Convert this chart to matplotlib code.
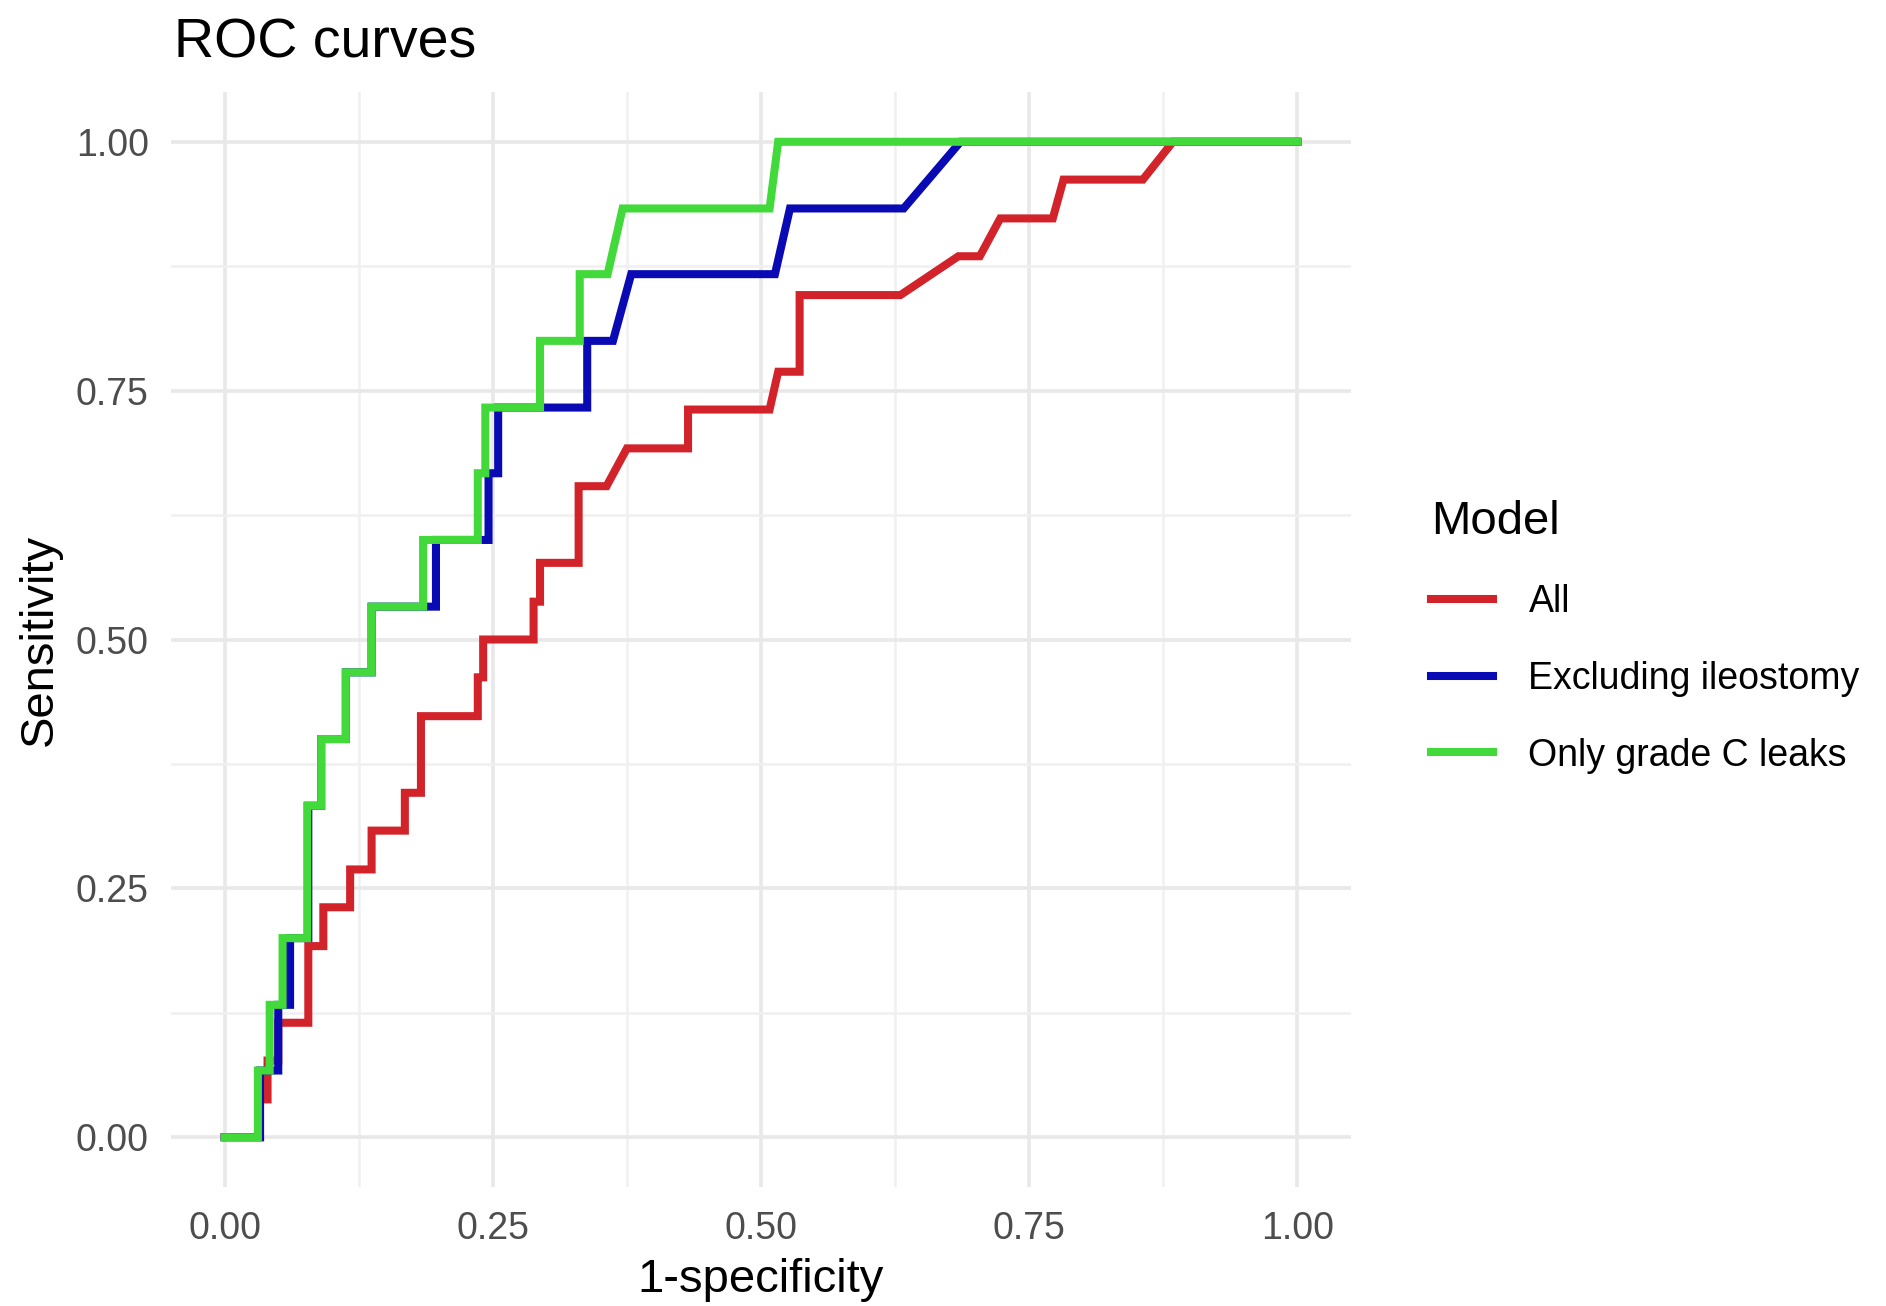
import matplotlib
matplotlib.use('Agg')
import matplotlib.pyplot as plt
import numpy as np

plt.rcParams['font.family'] = ['Liberation Sans', 'DejaVu Sans']

# ROC points (1-specificity, sensitivity)
all_fpr = [0, 0.033, 0.033, 0.040, 0.040, 0.050, 0.050, 0.078, 0.078, 0.092, 0.092,
           0.117, 0.117, 0.137, 0.137, 0.168, 0.168, 0.183, 0.183, 0.236, 0.236,
           0.241, 0.241, 0.288, 0.288, 0.294, 0.294, 0.330, 0.330, 0.356, 0.375,
           0.432, 0.432, 0.508, 0.516, 0.536, 0.536, 0.630, 0.684, 0.704, 0.723,
           0.772, 0.782, 0.856, 0.884, 1.0]
all_tpr = [0, 0, 0.038, 0.038, 0.077, 0.077, 0.115, 0.115, 0.192, 0.192, 0.231,
           0.231, 0.269, 0.269, 0.308, 0.308, 0.346, 0.346, 0.423, 0.423, 0.462,
           0.462, 0.5, 0.5, 0.538, 0.538, 0.577, 0.577, 0.654, 0.654, 0.692,
           0.692, 0.731, 0.731, 0.769, 0.769, 0.846, 0.846, 0.885, 0.885, 0.923,
           0.923, 0.962, 0.962, 1.0, 1.0]

excl_fpr = [0, 0.033, 0.033, 0.050, 0.050, 0.061, 0.061, 0.078, 0.078, 0.090, 0.090,
            0.113, 0.113, 0.137, 0.137, 0.197, 0.197, 0.246, 0.246, 0.255, 0.255,
            0.338, 0.338, 0.362, 0.379, 0.513, 0.527, 0.633, 0.686, 1.0]
excl_tpr = [0, 0, 0.067, 0.067, 0.133, 0.133, 0.2, 0.2, 0.333, 0.333, 0.4,
            0.4, 0.467, 0.467, 0.533, 0.533, 0.6, 0.6, 0.667, 0.667, 0.733,
            0.733, 0.8, 0.8, 0.867, 0.867, 0.933, 0.933, 1.0, 1.0]

gradec_fpr = [0, 0.031, 0.031, 0.042, 0.042, 0.054, 0.054, 0.077, 0.077, 0.090, 0.090,
              0.113, 0.113, 0.137, 0.137, 0.185, 0.185, 0.236, 0.236, 0.243, 0.243,
              0.294, 0.294, 0.331, 0.331, 0.357, 0.371, 0.508, 0.516, 1.0]
gradec_tpr = [0, 0, 0.067, 0.067, 0.133, 0.133, 0.2, 0.2, 0.333, 0.333, 0.4,
              0.4, 0.467, 0.467, 0.533, 0.533, 0.6, 0.6, 0.667, 0.667, 0.733,
              0.733, 0.8, 0.8, 0.867, 0.867, 0.933, 0.933, 1.0, 1.0]

models = ['All', 'Excluding ileostomy', 'Only grade C leaks']
colors = ['#D2232A', '#0A0AB4', '#42D93A']
ticks = [0, 0.25, 0.5, 0.75, 1.0]
tick_labels = ['0.00', '0.25', '0.50', '0.75', '1.00']

W, H = 1886, 1306
fig = plt.figure(figsize=(W / 100, H / 100), dpi=100)
ax = fig.add_axes([171 / W, 1 - 1187 / H, (1351 - 171) / W, (1187 - 92) / H])

lines = []
for fpr, tpr, name, col in zip([all_fpr, excl_fpr, gradec_fpr],
                               [all_tpr, excl_tpr, gradec_tpr], models, colors):
    ln, = ax.plot(fpr, tpr, color=col, lw=5.8, label=name, solid_joinstyle='miter')
    lines.append(ln)

ax.set_xlim(-0.05, 1.05)
ax.set_ylim(-0.05, 1.05)
ax.set_xticks(ticks)
ax.set_xticklabels(tick_labels)
ax.set_yticks(ticks)
ax.set_yticklabels(tick_labels)
ax.set_xticks(np.arange(0.125, 1, 0.25), minor=True)
ax.set_yticks(np.arange(0.125, 1, 0.25), minor=True)
ax.grid(which='major', color='#E8E8E8', lw=2.6)
ax.grid(which='minor', color='#F0F0F0', lw=1.8)
ax.set_axisbelow(True)
for s in ax.spines.values():
    s.set_visible(False)
ax.tick_params(which='both', length=0)
ax.tick_params(axis='x', labelsize=27, labelcolor='#4D4D4D', pad=17)
ax.tick_params(axis='y', labelsize=27, labelcolor='#4D4D4D', pad=16)

fig.text(174 / W, 1 - 57 / H, 'ROC curves', fontsize=40, va='baseline', ha='left')
fig.text(761 / W, 1 - 1292 / H, '1-specificity', fontsize=34, va='baseline', ha='center')
fig.text(40 / W, 1 - 640 / H, 'Sensitivity', fontsize=34, va='center', ha='center',
         rotation=90)

leg = fig.legend(handles=lines, labels=models, title='Model', loc='upper left',
                 bbox_to_anchor=(1416 / W, 1 - 485 / H), frameon=False,
                 fontsize=27, title_fontsize=34, handlelength=1.65,
                 handletextpad=0.95, labelspacing=1.08, alignment='left',
                 borderaxespad=0)
for lh in leg.get_lines():
    lh.set_linewidth(5.8)

fig.savefig('out.png', dpi=100)
